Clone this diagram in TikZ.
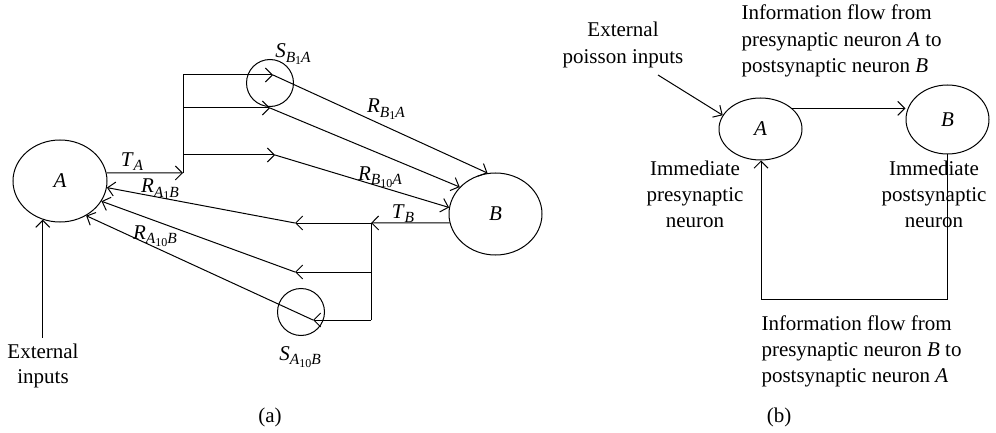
\documentclass[tikz,border=0pt]{standalone}
\usepackage{fontspec}
\setmainfont{Liberation Serif}
\usetikzlibrary{arrows.meta,shapes.geometric}
\newcommand{\mi}[1]{\textit{#1}}
\newcommand{\sbs}[1]{\raisebox{-4.5pt}{\fontsize{15.5}{15.5}\selectfont #1}}
\newcommand{\ssbs}[1]{\raisebox{-2.5pt}{\fontsize{12}{12}\selectfont #1}}
\begin{document}
\begin{tikzpicture}[x=1pt,y=-1pt,line width=1pt,
  every node/.style={font=\fontsize{21}{26}\selectfont, inner sep=0pt},
  arr/.style={-{Straight Barb[length=7pt,width=14pt]}},
  ell/.style={draw, ellipse},
  syn/.style={draw, circle, minimum size=47pt},
  lbl/.style={anchor=base},
  txt/.style={align=center, anchor=base},
  ltxt/.style={align=left, anchor=base west},
]
\useasboundingbox (0,0) rectangle (996,433);

% ---------- panel (a) ----------
\node[ell, minimum width=94pt, minimum height=82pt] (A) at (60,181) {\mi{A}};
\node[ell, minimum width=93pt, minimum height=82pt] (B) at (495.5,214) {\mi{B}};
\node[syn] (S1) at (270,83) {};
\node[syn] (S2) at (301,312) {};

\coordinate (ja) at (183,173);
\coordinate (j1) at (183,75);
\coordinate (j2) at (183,108);
\coordinate (j3) at (183,155);
\coordinate (t1) at (273,75);
\coordinate (t2) at (270,108);
\coordinate (t3) at (275,155);

\draw[arr] (A.10) -- (ja);
\draw (ja) -- (j1);
\draw[arr] (j1) -- (t1);
\draw[arr] (j2) -- (t2);
\draw[arr] (j3) -- (t3);
\draw[arr] (t1) -- (B.101);
\draw[arr] (t2) -- (B.143);
\draw[arr] (t3) -- (B.172);

\coordinate (k1) at (371,223);
\coordinate (k2) at (371,272);
\coordinate (k3) at (371,320);
\coordinate (u1) at (295,223);
\coordinate (u2) at (295,272);
\coordinate (u3) at (313,320);

\draw[arr] (B.-169) -- (k1);
\draw (k1) -- (k3);
\draw[arr] (k1) -- (u1);
\draw[arr] (k2) -- (u2);
\draw[arr] (k3) -- (u3);
\draw[arr] (u1) -- (A.-8);
\draw[arr] (u2) -- (A.-26);
\draw[arr] (u3) -- (A.-53);

\node[txt] (extA) at (43,383) {External\\[-1pt]inputs};
\draw[arr] (extA.north -| A.-114) ++(0,-5) -- (A.-114);

\node[lbl] (tA) at (132,166) {\mi{T}\sbs{\mi{A}}};
\node[lbl] (rA1) at (160,193) {\mi{R}\sbs{\mi{A}\ssbs{1}\mi{B}}};
\node[lbl] (rA10) at (155,239) {\mi{R}\sbs{\mi{A}\ssbs{10}\mi{B}}};
\node[lbl] (sB1) at (293,58) {\mi{S}\sbs{\mi{B}\ssbs{1}\mi{A}}};
\node[lbl] (rB1) at (386,113) {\mi{R}\sbs{\mi{B}\ssbs{1}\mi{A}}};
\node[lbl] (rB10) at (380,180) {\mi{R}\sbs{\mi{B}\ssbs{10}\mi{A}}};
\node[lbl] (tB) at (403,218) {\mi{T}\sbs{\mi{B}}};
\node[lbl] (sA10) at (300,360) {\mi{S}\sbs{\mi{A}\ssbs{10}\mi{B}}};
\node[lbl] (capA) at (270,422) {(a)};

% ---------- panel (b) ----------
\node[ell, minimum width=83pt, minimum height=62pt] (A2) at (760.5,129) {\mi{A}};
\node[ell, minimum width=83pt, minimum height=69pt] (B2) at (947.5,119.5) {\mi{B}};

\node[txt] (extB) at (623,64) {External\\[1pt]poisson inputs};
\coordinate (pin) at (658,75);
\draw[arr] (pin) -- (A2.160);

\draw[arr] (A2.33) -- (A2.33 -| B2.west);

\coordinate (fb) at (761,299);
\draw[arr] (B2.south) |- (fb) -- (fb |- A2.south);

\node[ltxt] (topB) at (741,73) {Information flow from\\[0.5pt]presynaptic neuron \mi{A} to\\[0.5pt]postsynaptic neuron \mi{B}};
\node[txt] (preB) at (695,227) {Immediate\\presynaptic\\neuron};
\node[txt] (postB) at (934,227) {Immediate\\postsynaptic\\neuron};
\node[ltxt] (botB) at (761,382) {Information flow from\\presynaptic neuron \mi{B} to\\postsynaptic neuron \mi{A}};
\node[lbl] (capB) at (779,422) {(b)};
\end{tikzpicture}
\end{document}
